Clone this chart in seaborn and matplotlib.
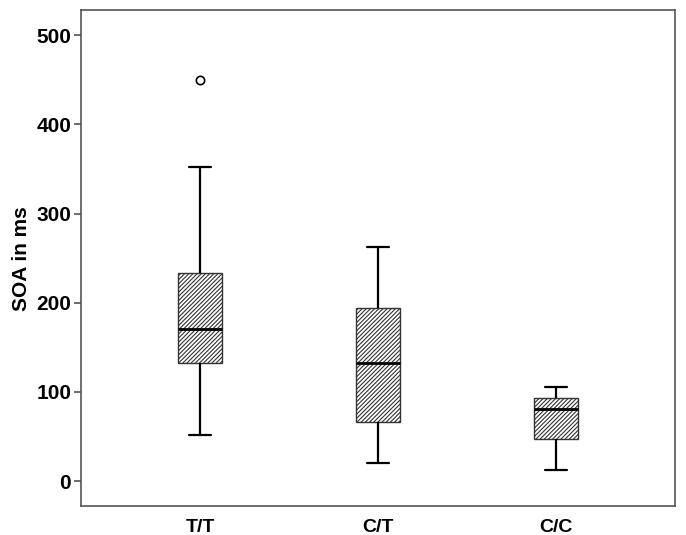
import matplotlib
matplotlib.use('Agg')
import matplotlib.pyplot as plt
import seaborn as sns
import pandas as pd

genotypes = ['T/T', 'C/T', 'C/C']
tt_soa = [52, 133, 133, 170, 170, 233, 233, 352, 450]
ct_soa = [20, 66, 133, 194, 262]
cc_soa = [12, 47, 81, 93, 105]

df = pd.DataFrame({
    'Genotype': ['T/T'] * len(tt_soa) + ['C/T'] * len(ct_soa) + ['C/C'] * len(cc_soa),
    'SOA': tt_soa + ct_soa + cc_soa,
})

sns.set_style('white')
plt.rcParams['font.family'] = ['Liberation Sans', 'DejaVu Sans']
plt.rcParams['hatch.linewidth'] = 0.8
plt.rcParams['hatch.color'] = '#222222'

fig = plt.figure(figsize=(6.86, 5.35), dpi=100)
ax = fig.add_axes([0.118, 0.054, 0.866, 0.927])

sns.boxplot(x='Genotype', y='SOA', data=df, order=genotypes, ax=ax,
            width=0.25, color='white', linecolor='#222222', linewidth=1.0,
            whis=1.5,
            boxprops=dict(edgecolor='#333333', linewidth=1.0),
            whiskerprops=dict(color='black', linewidth=1.6),
            capprops=dict(color='black', linewidth=1.6),
            medianprops=dict(color='black', linewidth=2.0),
            flierprops=dict(marker='o', markersize=6, markerfacecolor='none',
                            markeredgecolor='black', markeredgewidth=1.2))

for patch in ax.patches:
    patch.set_hatch('////////')
    patch.set_facecolor('white')

ax.set_xlim(-0.67, 2.67)
ax.set_ylim(-28, 528)
ax.set_yticks([0, 100, 200, 300, 400, 500])
ax.set_xlabel('')
ax.set_ylabel('SOA in ms', fontsize=15, fontweight='bold', labelpad=4, color='black')

for s in ax.spines.values():
    s.set_color('#555555')
    s.set_linewidth(1.2)

ax.tick_params(axis='y', which='major', left=True, length=5, width=1.2,
               color='#555555', labelsize=15, pad=2, labelcolor='black')
ax.tick_params(axis='x', bottom=False, labelsize=14, pad=6, labelcolor='black')
for lab in ax.get_xticklabels() + ax.get_yticklabels():
    lab.set_fontweight('bold')

fig.savefig('out.png', dpi=100)
